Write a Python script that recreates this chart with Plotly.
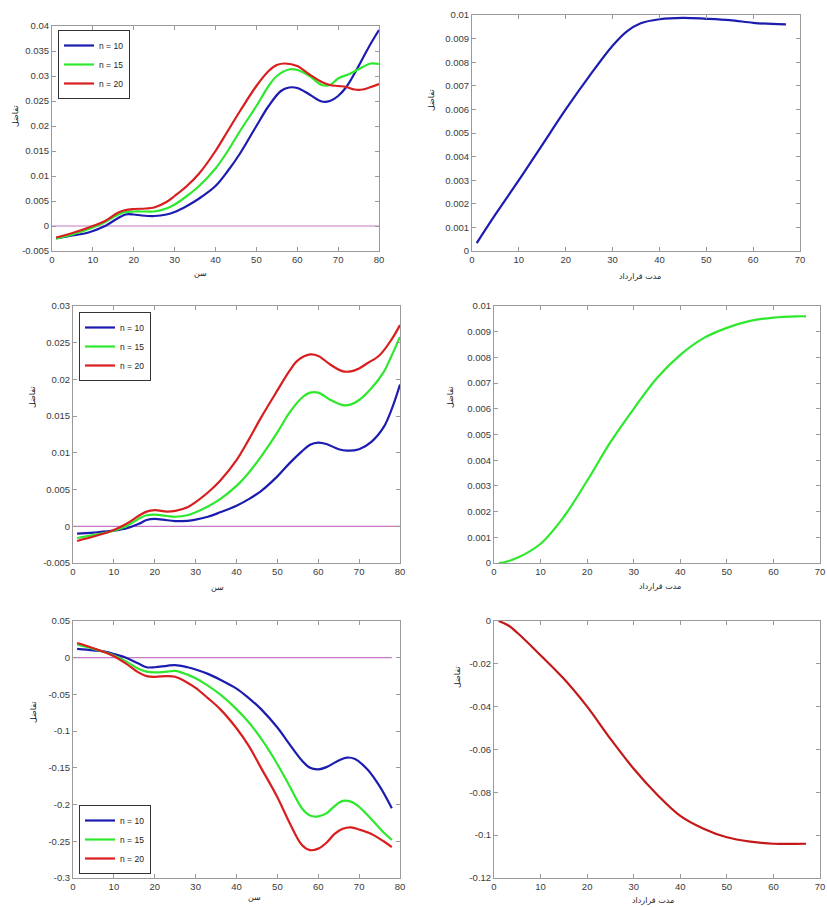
import plotly.graph_objects as go

# ---------------- data ----------------
# Panel 1 (top-left): x = age
p1_x_blue = [1, 5, 8, 10, 13, 16, 18, 20, 22, 25, 28, 30, 33, 36, 40, 43, 46, 50, 53, 56, 58, 60, 63, 66, 68, 70, 72, 74, 76, 78, 80]
p1_blue = [-2.5, -1.9, -1.5, -1.0, 0.0, 1.5, 2.3, 2.3, 2.1, 2.0, 2.3, 2.8, 4.0, 5.5, 8.0, 11.0, 14.5, 20.0, 24.0, 27.0, 27.7, 27.6, 26.3, 24.9, 25.0, 26.0, 27.8, 30.5, 33.5, 36.5, 39.2]
p1_x_green = [1, 5, 10, 13, 16, 18, 20, 23, 25, 28, 30, 33, 36, 40, 43, 46, 50, 53, 55, 58, 60, 63, 66, 68, 70, 73, 76, 78, 80]
p1_green = [-2.5, -1.7, -0.3, 0.8, 2.2, 2.8, 2.9, 2.9, 2.9, 3.5, 4.3, 6.0, 8.0, 11.5, 15.0, 19.0, 24.0, 28.0, 30.0, 31.3, 31.2, 30.0, 28.2, 28.2, 29.5, 30.5, 31.8, 32.5, 32.4]
p1_x_red = [1, 5, 10, 13, 16, 18, 20, 23, 25, 28, 30, 33, 36, 40, 43, 46, 50, 53, 55, 57, 60, 63, 66, 68, 70, 72, 74, 76, 78, 80]
p1_red = [-2.3, -1.4, 0.0, 1.0, 2.6, 3.2, 3.4, 3.5, 3.7, 4.8, 6.0, 8.0, 10.5, 15.0, 19.0, 23.0, 28.0, 31.0, 32.2, 32.5, 32.0, 30.3, 28.8, 28.2, 28.0, 27.8, 27.3, 27.3, 27.8, 28.4]

# Panel 2 (top-right): x = contract duration
p2_x = [1, 5, 10, 15, 20, 25, 30, 33, 36, 40, 45, 50, 55, 60, 64, 67]
p2_y = [0.33, 1.55, 3.0, 4.5, 6.0, 7.4, 8.7, 9.3, 9.65, 9.82, 9.88, 9.84, 9.78, 9.67, 9.62, 9.6]

# Panel 3 (middle-left)
p3_x_blue = [1, 5, 10, 13, 16, 18, 20, 22, 25, 28, 30, 33, 36, 40, 43, 46, 50, 53, 56, 58, 60, 62, 65, 67, 70, 73, 76, 78, 80]
p3_blue = [-1.0, -0.85, -0.6, -0.3, 0.3, 0.85, 1.0, 0.9, 0.7, 0.75, 0.9, 1.3, 1.9, 2.8, 3.7, 4.8, 6.8, 8.6, 10.2, 11.1, 11.4, 11.2, 10.5, 10.3, 10.5, 11.5, 13.5, 16.0, 19.3]
p3_x_green = [1, 5, 10, 13, 16, 18, 20, 23, 25, 28, 30, 33, 36, 40, 43, 46, 50, 53, 56, 58, 60, 63, 66, 68, 70, 73, 76, 78, 80]
p3_green = [-1.6, -1.2, -0.6, 0.0, 1.0, 1.5, 1.6, 1.4, 1.3, 1.5, 1.9, 2.7, 3.7, 5.5, 7.3, 9.5, 12.8, 15.5, 17.5, 18.2, 18.2, 17.2, 16.5, 16.6, 17.2, 18.8, 21.0, 23.3, 25.8]
p3_x_red = [1, 5, 10, 13, 16, 18, 20, 23, 25, 28, 30, 33, 36, 40, 43, 46, 50, 53, 55, 58, 60, 63, 66, 68, 70, 72, 75, 78, 80]
p3_red = [-2.0, -1.4, -0.5, 0.3, 1.4, 2.0, 2.2, 2.0, 2.1, 2.6, 3.3, 4.6, 6.2, 9.0, 11.8, 14.8, 18.5, 21.2, 22.6, 23.4, 23.2, 22.0, 21.1, 21.1, 21.5, 22.2, 23.3, 25.5, 27.4]

# Panel 4 (middle-right)
p4_x = [1, 2, 5, 10, 15, 20, 25, 30, 35, 40, 45, 50, 55, 60, 65, 67]
p4_y = [0.0, 0.02, 0.2, 0.75, 1.8, 3.2, 4.7, 6.0, 7.2, 8.1, 8.75, 9.15, 9.42, 9.55, 9.6, 9.6]

# Panel 5 (bottom-left)
p5_x_blue = [1, 5, 8, 10, 13, 16, 18, 20, 23, 25, 28, 30, 33, 36, 40, 43, 46, 50, 53, 56, 58, 60, 62, 65, 67, 69, 72, 75, 78]
p5_blue = [0.012, 0.010, 0.008, 0.005, 0.000, -0.008, -0.013, -0.013, -0.011, -0.010, -0.013, -0.016, -0.022, -0.030, -0.042, -0.055, -0.070, -0.095, -0.118, -0.140, -0.150, -0.152, -0.149, -0.140, -0.136, -0.138, -0.152, -0.175, -0.205]
p5_x_green = [1, 5, 8, 10, 13, 16, 18, 20, 23, 25, 28, 30, 33, 36, 40, 43, 46, 50, 53, 56, 58, 60, 62, 64, 66, 68, 70, 73, 76, 78]
p5_green = [0.018, 0.012, 0.007, 0.003, -0.005, -0.015, -0.019, -0.020, -0.019, -0.018, -0.023, -0.028, -0.038, -0.050, -0.070, -0.088, -0.110, -0.145, -0.175, -0.205, -0.215, -0.216, -0.212, -0.202, -0.195, -0.196, -0.203, -0.220, -0.238, -0.248]
p5_x_red = [1, 5, 8, 10, 13, 16, 18, 20, 23, 25, 28, 30, 33, 36, 40, 43, 46, 50, 53, 56, 58, 60, 62, 64, 66, 68, 70, 73, 76, 78]
p5_red = [0.020, 0.013, 0.007, 0.002, -0.008, -0.020, -0.025, -0.026, -0.025, -0.026, -0.034, -0.041, -0.055, -0.070, -0.096, -0.120, -0.150, -0.190, -0.225, -0.255, -0.262, -0.260, -0.252, -0.240, -0.233, -0.231, -0.234, -0.240, -0.250, -0.258]

# Panel 6 (bottom-right)
p6_x = [1, 3, 5, 10, 15, 20, 25, 30, 35, 40, 45, 50, 55, 60, 67]
p6_y = [0.0, -0.002, -0.0055, -0.016, -0.027, -0.040, -0.055, -0.069, -0.081, -0.091, -0.097, -0.101, -0.103, -0.104, -0.104]

series_names = ["n = 10", "n = 15", "n = 20"]

# tick labels
age_ticks = [0, 10, 20, 30, 40, 50, 60, 70, 80]
dur_ticks = [0, 10, 20, 30, 40, 50, 60, 70]
p1_yticks = [-0.005, 0, 0.005, 0.01, 0.015, 0.02, 0.025, 0.03, 0.035, 0.04]
p1_ytext = ["-0.005", "0", "0.005", "0.01", "0.015", "0.02", "0.025", "0.03", "0.035", "0.04"]
p2_yticks = [0, 0.001, 0.002, 0.003, 0.004, 0.005, 0.006, 0.007, 0.008, 0.009, 0.01]
p2_ytext = ["0", "0.001", "0.002", "0.003", "0.004", "0.005", "0.006", "0.007", "0.008", "0.009", "0.01"]
p3_yticks = [-0.005, 0, 0.005, 0.01, 0.015, 0.02, 0.025, 0.03]
p3_ytext = ["-0.005", "0", "0.005", "0.01", "0.015", "0.02", "0.025", "0.03"]
p5_yticks = [-0.3, -0.25, -0.2, -0.15, -0.1, -0.05, 0, 0.05]
p5_ytext = ["-0.3", "-0.25", "-0.2", "-0.15", "-0.1", "-0.05", "0", "0.05"]
p6_yticks = [-0.12, -0.1, -0.08, -0.06, -0.04, -0.02, 0]
p6_ytext = ["-0.12", "-0.1", "-0.08", "-0.06", "-0.04", "-0.02", "0"]

x_label_age = "سن"
x_label_dur = "مدت قرارداد"
y_label = "تفاضل"

# ---------------- styling ----------------
W, H = 827, 907
BLUE = "#1c1cb0"
GREEN = "#2ee82e"
RED = "#d81e1e"
ZERO = "#c47ac4"
TICKFONT = dict(family="Liberation Sans, Arial, sans-serif", size=9.5, color="#3a3a3a")
LBLFONT = dict(family="DejaVu Sans, sans-serif", size=8, color="#222222")

def px_dom_x(a, b):
    return [a / W, b / W]

def px_dom_y(top, bottom):
    return [1 - bottom / H, 1 - top / H]

fig = go.Figure()

def s(x, y, color, name, xa, ya, legend=None, show=False, scale=1.0, width=2.2):
    fig.add_trace(go.Scatter(
        x=x, y=[v * scale for v in y], mode="lines", name=name,
        line=dict(color=color, width=width, shape="spline", smoothing=1.0),
        xaxis=xa, yaxis=ya, showlegend=show, legend=legend, hoverinfo="skip"))

def zero(xmax, xa, ya):
    fig.add_trace(go.Scatter(x=[0, xmax], y=[0, 0], mode="lines",
                             line=dict(color=ZERO, width=1.2),
                             xaxis=xa, yaxis=ya, showlegend=False, hoverinfo="skip"))

# Panel 1
zero(max(age_ticks), "x", "y")
s(p1_x_blue, p1_blue, BLUE, series_names[0], "x", "y", "legend", True, 1e-3)
s(p1_x_green, p1_green, GREEN, series_names[1], "x", "y", "legend", True, 1e-3)
s(p1_x_red, p1_red, RED, series_names[2], "x", "y", "legend", True, 1e-3)
# Panel 2
s(p2_x, p2_y, BLUE, "", "x2", "y2", scale=1e-3)
# Panel 3
zero(max(age_ticks), "x3", "y3")
s(p3_x_blue, p3_blue, BLUE, series_names[0], "x3", "y3", "legend2", True, 1e-3)
s(p3_x_green, p3_green, GREEN, series_names[1], "x3", "y3", "legend2", True, 1e-3)
s(p3_x_red, p3_red, RED, series_names[2], "x3", "y3", "legend2", True, 1e-3)
# Panel 4
s(p4_x, p4_y, GREEN, "", "x4", "y4", scale=1e-3)
# Panel 5
zero(max(p5_x_blue), "x5", "y5")
s(p5_x_blue, p5_blue, BLUE, series_names[0], "x5", "y5", "legend3", True)
s(p5_x_green, p5_green, GREEN, series_names[1], "x5", "y5", "legend3", True)
s(p5_x_red, p5_red, RED, series_names[2], "x5", "y5", "legend3", True)
# Panel 6
s(p6_x, p6_y, "#c41818", "", "x6", "y6")

axis_common = dict(showline=True, linecolor="#9a9a9a", linewidth=1, mirror="ticks",
                   ticks="inside", ticklen=4, tickcolor="#9a9a9a", showgrid=False,
                   zeroline=False, tickfont=TICKFONT, fixedrange=True, automargin=False)

panels = [
    # (xdom px, ydom px(top,bottom), xrange, xticks, yrange, yticks, ytext)
    ((52, 379), (26, 251), [0, 80], age_ticks, [-0.005, 0.04], p1_yticks, p1_ytext),
    ((472, 800), (15, 251), [0, 70], dur_ticks, [0, 0.01], p2_yticks, p2_ytext),
    ((73, 400), (306, 563), [0, 80], age_ticks, [-0.005, 0.03], p3_yticks, p3_ytext),
    ((494, 820), (306, 563), [0, 70], dur_ticks, [0, 0.01], p2_yticks, p2_ytext),
    ((73, 400), (621, 878), [0, 80], age_ticks, [-0.3, 0.05], p5_yticks, p5_ytext),
    ((494, 820), (621, 878), [0, 70], dur_ticks, [-0.12, 0], p6_yticks, p6_ytext),
]

layout = {}
for i, (xd, yd, xr, xt, yr, yt, ytx) in enumerate(panels, start=1):
    xk = "xaxis" if i == 1 else f"xaxis{i}"
    yk = "yaxis" if i == 1 else f"yaxis{i}"
    ya_name = "y" if i == 1 else f"y{i}"
    xa_name = "x" if i == 1 else f"x{i}"
    layout[xk] = dict(axis_common, domain=px_dom_x(*xd), range=xr, tickvals=xt,
                      ticktext=[str(t) for t in xt], anchor=ya_name)
    layout[yk] = dict(axis_common, domain=px_dom_y(*yd), range=yr, tickvals=yt,
                      ticktext=ytx, anchor=xa_name)

legend_common = dict(bgcolor="white", bordercolor="#333333", borderwidth=1,
                     font=dict(family="Liberation Sans, Arial, sans-serif", size=8.5, color="#222"),
                     xanchor="left", yanchor="top", tracegroupgap=0, itemwidth=30)

layout["legend"] = dict(legend_common, x=58 / W, y=1 - 30 / H)
layout["legend2"] = dict(legend_common, x=79 / W, y=1 - 312 / H)
layout["legend3"] = dict(legend_common, x=79 / W, y=1 - 874 / H, yanchor="bottom")

fig.update_layout(width=W, height=H, margin=dict(l=0, r=0, t=0, b=0, autoexpand=False),
                  paper_bgcolor="white", plot_bgcolor="white", **layout)

# axis labels as annotations (positions follow the source layout)
labels = [
    (x_label_age, 200, 273, 0), (x_label_dur, 640, 276, 0),
    (x_label_age, 218, 587, 0), (x_label_dur, 660, 586, 0),
    (x_label_age, 255, 897, 0), (x_label_dur, 653, 900, 0),
    (y_label, 16, 116, -90), (y_label, 432, 100, -90),
    (y_label, 32, 397, -90), (y_label, 450, 397, -90),
    (y_label, 33, 712, -90), (y_label, 457, 677, -90),
]
for text, xp, yp, ang in labels:
    fig.add_annotation(text=text, x=xp / W, y=1 - yp / H, xref="paper", yref="paper",
                       showarrow=False, textangle=ang, font=LBLFONT,
                       xanchor="center", yanchor="middle")

fig.write_html("out.html", config={"displayModeBar": False, "staticPlot": True},
               post_script="document.body.style.margin='0';document.body.style.overflow='hidden';")
